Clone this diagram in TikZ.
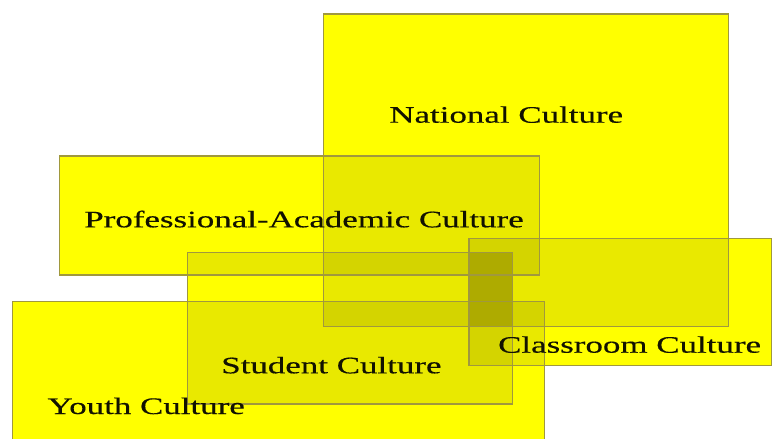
\documentclass[tikz,border=0pt]{standalone}
\usepackage{fontspec}
\setmainfont{Liberation Serif}[FakeStretch=1.48,FakeBold=0.4]
\definecolor{boxyellow}{RGB}{255,255,0}
\definecolor{boxline}{RGB}{160,152,62}
\definecolor{deepolive}{RGB}{174,171,0}
\definecolor{labelink}{RGB}{18,18,0}
\begin{document}
\begin{tikzpicture}[x=1pt,y=-1pt,
  boxfill/.style={fill=boxyellow},
  boxedge/.style={draw=boxline,line width=1.2pt},
  shade/.style={transparency group,opacity=0.085},
  label/.style={anchor=base,inner sep=0pt,font=\fontsize{23.6}{26}\selectfont,text=labelink}]
\useasboundingbox (0,0) rectangle (772,439);
% corners
\coordinate (N1) at (323.3,14);   \coordinate (N2) at (728.8,326.7);
\coordinate (P1) at (59.3,156);   \coordinate (P2) at (539.3,275);
\coordinate (C1) at (469,238.3);  \coordinate (C2) at (771.5,365.7);
\coordinate (S1) at (187.5,252.7);\coordinate (S2) at (512.7,404);
\coordinate (Y1) at (12.7,301.7); \coordinate (Y2) at (544.3,450);
% base yellow
\fill[boxfill] (N1) rectangle (N2);
\fill[boxfill] (P1) rectangle (P2);
\fill[boxfill] (C1) rectangle (C2);
\fill[boxfill] (S1) rectangle (S2);
\fill[boxfill] (Y1) rectangle (Y2);
% overlap darkening
\begin{scope}[shade]
  \clip (P1) rectangle (P2);
  \fill[black] (N1) rectangle (N2);
\end{scope}
\begin{scope}[shade]
  \clip (C1) rectangle (C2);
  \fill[black] (N1) rectangle (N2);
  \fill[black] (P1) rectangle (P2);
\end{scope}
\begin{scope}[shade]
  \clip (S1) rectangle (S2);
  \fill[black] (N1) rectangle (N2);
  \fill[black] (P1) rectangle (P2);
  \fill[black] (C1) rectangle (C2);
\end{scope}
\begin{scope}[shade]
  \clip (Y1) rectangle (Y2);
  \fill[black] (N1) rectangle (N2);
  \fill[black] (P1) rectangle (P2);
  \fill[black] (C1) rectangle (C2);
  \fill[black] (S1) rectangle (S2);
\end{scope}
% darkest column (National, Classroom and Student together)
\begin{scope}
  \clip (N1) rectangle (N2);
  \clip (C1) rectangle (C2);
  \fill[deepolive] (S1) rectangle (S2);
\end{scope}
% outlines
\draw[boxedge] (N1) rectangle (N2);
\draw[boxedge] (P1) rectangle (P2);
\draw[boxedge] (C1) rectangle (C2);
\draw[boxedge] (S1) rectangle (S2);
\draw[boxedge] (Y1) rectangle (Y2);
% labels
\node[label] (national) at (506.2,122.7) {National Culture};
\node[label] (professional) at (304,227.3) {Professional-Academic Culture};
\node[label] (classroom) at (629.6,352.7) {Classroom Culture};
\node[label] (student) at (331.4,373.3) {Student Culture};
\node[label] (youth) at (146.2,414) {Youth Culture};
\end{tikzpicture}
\end{document}
